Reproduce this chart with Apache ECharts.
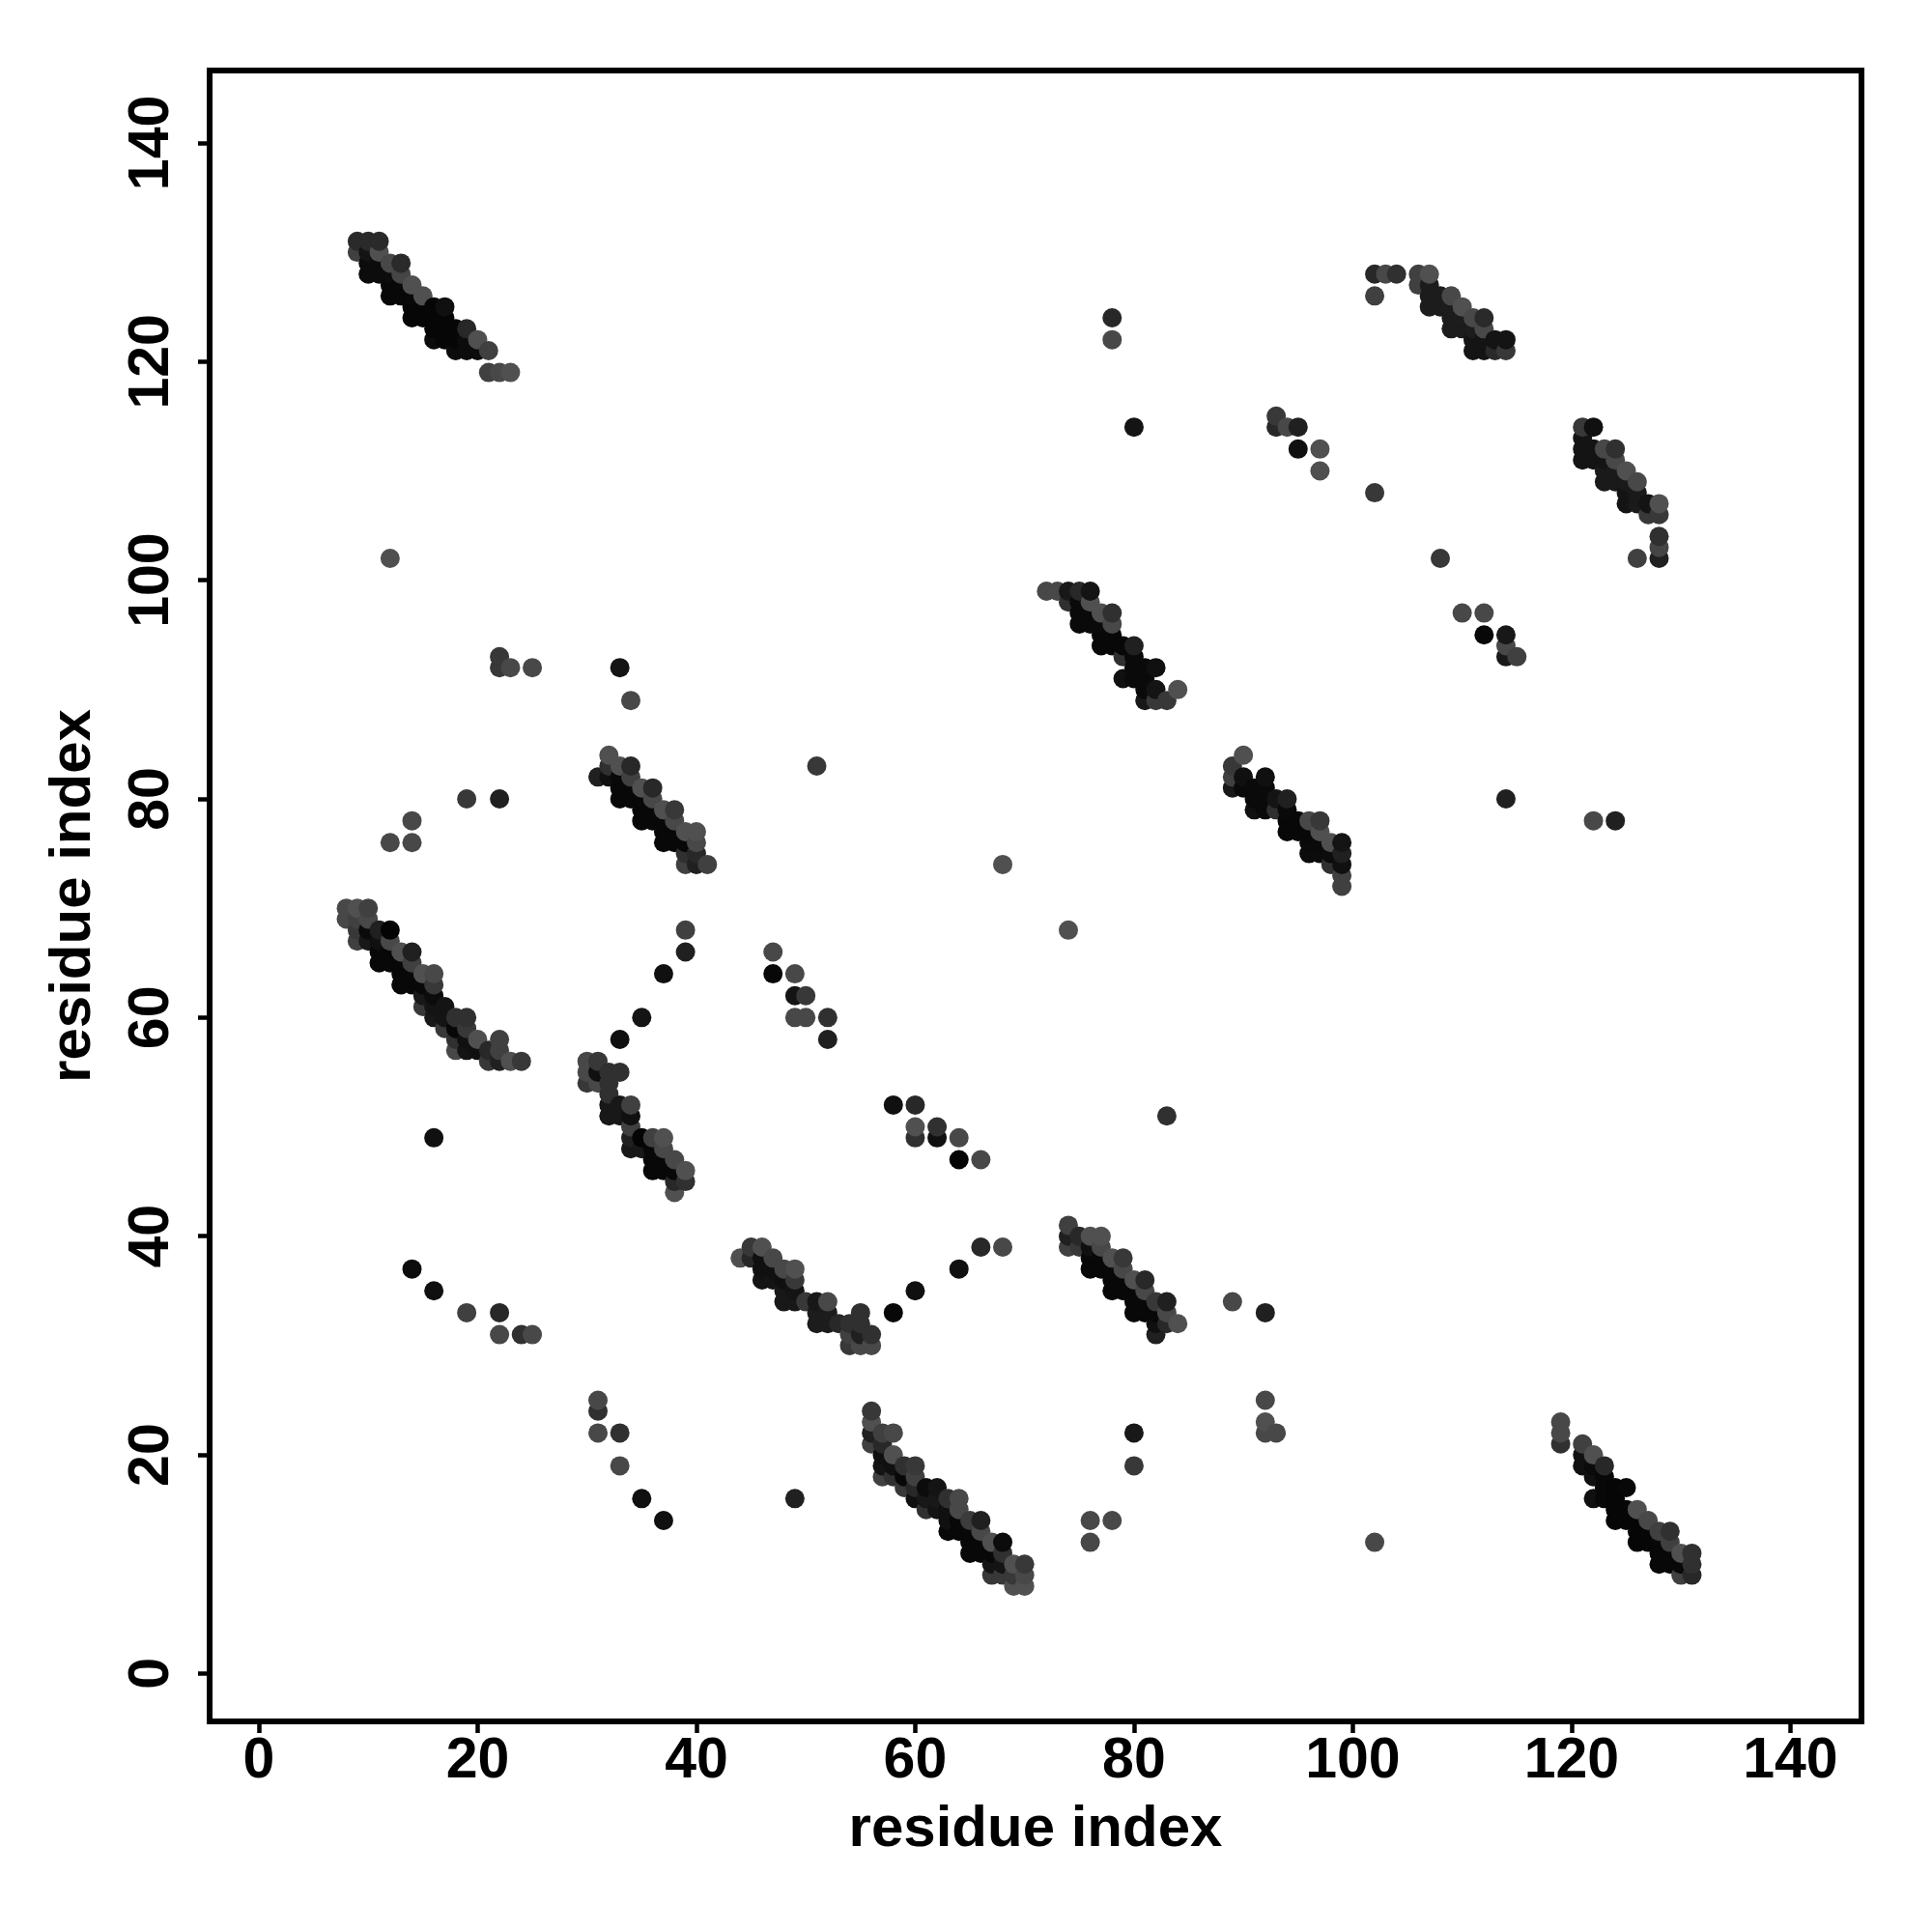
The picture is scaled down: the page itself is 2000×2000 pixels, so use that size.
<!DOCTYPE html>
<html><head><meta charset="utf-8">
<script src="https://cdn.jsdelivr.net/npm/echarts@6/dist/echarts.min.js"></script>
<style>html,body{margin:0;background:#fff}#c{width:2000px;height:2000px}</style></head>
<body><div id="c"></div>
<script>
const tickValues=[0,20,40,60,80,100,120,140];
const axisTitle='residue index';
// each contact: [residue x, residue y, gray level of the dot]
const bandA=[[9,131,0x2a],[10,131,0x2a],[11,131,0x2a],[9,130,0x40],[10,130,0x14],[11,130,0x50],[10,129,0x0c],[11,129,0x0c],[12,129,0x48],[13,129,0x2a],[10,128,0x0c],[11,128,0x0c],[12,128,0x0c],[13,128,0x45],[12,127,0x08],[13,127,0x08],[14,127,0x50],[12,126,0x08],[13,126,0x08],[14,126,0x08],[15,126,0x50],[14,125,0x06],[15,125,0x06],[16,125,0x06],[17,125,0x10],[14,124,0x06],[15,124,0x06],[16,124,0x06],[17,124,0x06],[16,123,0x06],[17,123,0x06],[18,123,0x06],[19,123,0x28],[16,122,0x0c],[17,122,0x06],[18,122,0x06],[19,122,0x0c],[20,122,0x50],[18,121,0x0c],[19,121,0x0c],[20,121,0x0c],[21,121,0x40],[21,119,0x40],[22,119,0x48],[23,119,0x50]];
const bandB=[[102,128,0x28],[103,128,0x48],[104,128,0x30],[106,128,0x40],[107,128,0x50],[106,127,0x40],[107,127,0x1c],[102,126,0x40],[107,126,0x1c],[108,126,0x1c],[109,126,0x48],[107,125,0x1c],[108,125,0x1c],[109,125,0x1c],[110,125,0x50],[109,124,0x1c],[110,124,0x1c],[111,124,0x48],[112,124,0x2a],[109,123,0x1c],[110,123,0x1c],[111,123,0x1c],[112,123,0x48],[111,122,0x14],[112,122,0x14],[113,122,0x14],[114,122,0x14],[111,121,0x14],[112,121,0x14],[113,121,0x2a],[114,121,0x38]];
const bandC=[[121,114,0x38],[122,114,0x10],[121,113,0x14],[121,112,0x14],[122,112,0x14],[123,112,0x48],[124,112,0x30],[121,111,0x14],[122,111,0x14],[123,111,0x14],[124,111,0x48],[123,110,0x1a],[124,110,0x1a],[125,110,0x50],[123,109,0x1a],[124,109,0x1a],[125,109,0x1a],[126,109,0x48],[125,108,0x14],[126,108,0x1a],[125,107,0x14],[126,107,0x1a],[127,107,0x14],[128,107,0x50],[127,106,0x38],[128,106,0x38],[128,104,0x30],[128,103,0x45],[126,102,0x40],[128,102,0x20]];
const bandD=[[72,99,0x48],[73,99,0x48],[74,99,0x18],[75,99,0x28],[76,99,0x14],[74,98,0x30],[75,98,0x0a],[76,98,0x50],[75,97,0x0a],[76,97,0x0a],[77,97,0x50],[78,97,0x30],[75,96,0x0a],[76,96,0x0a],[77,96,0x0a],[78,96,0x48],[77,95,0x08],[78,95,0x08],[77,94,0x08],[78,94,0x08],[79,94,0x08],[80,94,0x20],[79,93,0x30],[80,93,0x0a],[80,92,0x0a],[81,92,0x0a],[82,92,0x10],[79,91,0x10],[80,91,0x0a],[81,91,0x0a],[81,90,0x0a],[82,90,0x14],[84,90,0x50],[81,89,0x18],[82,89,0x38],[83,89,0x38]];
const bandE=[[90,84,0x50],[89,83,0x38],[89,82,0x40],[90,82,0x10],[92,82,0x10],[89,81,0x18],[90,81,0x0a],[91,81,0x0a],[92,81,0x0a],[91,80,0x0a],[92,80,0x0a],[93,80,0x14],[94,80,0x20],[91,79,0x10],[92,79,0x0a],[93,79,0x30],[94,79,0x0a],[94,78,0x08],[95,78,0x08],[96,78,0x48],[97,78,0x38],[94,77,0x08],[95,77,0x08],[96,77,0x08],[97,77,0x50],[96,76,0x0a],[97,76,0x0a],[98,76,0x50],[99,76,0x14],[96,75,0x0c],[97,75,0x0c],[98,75,0x0c],[99,75,0x20],[98,74,0x30],[99,74,0x10],[99,73,0x40],[99,72,0x40]];
const bandF=[[32,84,0x50],[32,83,0x30],[33,83,0x50],[34,83,0x28],[31,82,0x20],[32,82,0x10],[33,82,0x08],[34,82,0x40],[33,81,0x08],[34,81,0x08],[35,81,0x50],[36,81,0x28],[33,80,0x08],[34,80,0x08],[35,80,0x08],[36,80,0x48],[35,79,0x08],[36,79,0x08],[37,79,0x50],[38,79,0x38],[35,78,0x08],[36,78,0x08],[37,78,0x08],[38,78,0x48],[37,77,0x08],[38,77,0x08],[39,77,0x50],[40,77,0x50],[37,76,0x08],[38,76,0x08],[39,76,0x08],[40,76,0x48],[39,75,0x30],[40,75,0x28],[39,74,0x40],[40,74,0x20],[41,74,0x40]];
const bandG=[[8,70,0x48],[9,70,0x50],[10,70,0x40],[8,69,0x48],[9,69,0x40],[10,69,0x48],[9,68,0x38],[10,68,0x0a],[11,68,0x20],[12,68,0x04],[9,67,0x40],[10,67,0x18],[11,67,0x10],[12,67,0x48],[11,66,0x08],[12,66,0x08],[13,66,0x50],[14,66,0x20],[11,65,0x08],[12,65,0x08],[13,65,0x08],[14,65,0x40],[13,64,0x08],[14,64,0x08],[15,64,0x50],[16,64,0x48],[13,63,0x08],[14,63,0x08],[15,63,0x08],[16,63,0x38],[15,62,0x18],[16,62,0x0c],[15,61,0x38],[16,61,0x14],[17,61,0x14],[16,60,0x18],[17,60,0x14],[18,60,0x30],[19,60,0x30],[17,59,0x38],[18,59,0x08],[19,59,0x38],[18,58,0x30],[19,58,0x10],[20,58,0x50],[22,58,0x40],[18,57,0x48],[19,57,0x14],[20,57,0x10],[21,57,0x28],[22,57,0x40],[21,56,0x38],[22,56,0x20],[23,56,0x50],[24,56,0x38]];
const bandH=[[30,56,0x48],[31,56,0x38],[30,55,0x48],[31,55,0x10],[32,55,0x30],[33,55,0x30],[30,54,0x38],[31,54,0x48],[32,54,0x30],[32,53,0x30],[32,52,0x18],[33,52,0x18],[34,52,0x40],[32,51,0x18],[33,51,0x18],[34,51,0x10],[34,50,0x40],[34,49,0x20],[35,49,0x04],[36,49,0x40],[37,49,0x50],[34,48,0x18],[35,48,0x18],[36,48,0x08],[37,48,0x48],[36,47,0x08],[37,47,0x08],[38,47,0x48],[36,46,0x08],[37,46,0x08],[38,46,0x08],[39,46,0x50],[38,45,0x28],[39,45,0x30],[38,44,0x50]];
const bandI=[[45,39,0x38],[46,39,0x50],[44,38,0x50],[45,38,0x28],[46,38,0x10],[47,38,0x48],[46,37,0x10],[47,37,0x10],[48,37,0x48],[49,37,0x50],[46,36,0x14],[47,36,0x14],[48,36,0x10],[49,36,0x38],[48,35,0x18],[49,35,0x14],[48,34,0x18],[49,34,0x18],[50,34,0x38],[51,34,0x18],[52,34,0x48],[51,33,0x1c],[52,33,0x1c],[55,33,0x30],[51,32,0x1c],[52,32,0x1c],[53,32,0x28],[54,32,0x30],[55,32,0x30],[54,31,0x40],[55,31,0x20],[56,31,0x30],[54,30,0x38],[55,30,0x48],[56,30,0x48]];
const bandJ=[[74,41,0x40],[74,40,0x20],[75,40,0x28],[76,40,0x50],[77,40,0x50],[74,39,0x40],[75,39,0x38],[76,39,0x10],[77,39,0x48],[76,38,0x08],[77,38,0x08],[78,38,0x50],[79,38,0x38],[76,37,0x08],[77,37,0x08],[78,37,0x08],[79,37,0x48],[78,36,0x08],[79,36,0x08],[80,36,0x50],[81,36,0x28],[78,35,0x08],[79,35,0x08],[80,35,0x08],[81,35,0x48],[80,34,0x08],[81,34,0x08],[82,34,0x38],[83,34,0x20],[80,33,0x08],[81,33,0x08],[82,33,0x08],[83,33,0x48],[82,32,0x10],[83,32,0x28],[84,32,0x50],[82,31,0x20]];
const bandK=[[56,24,0x38],[56,23,0x50],[56,22,0x20],[57,22,0x40],[58,22,0x48],[56,21,0x40],[57,21,0x28],[57,20,0x10],[58,20,0x50],[57,19,0x14],[58,19,0x10],[59,19,0x30],[60,19,0x38],[57,18,0x40],[58,18,0x30],[59,18,0x08],[60,18,0x40],[59,17,0x38],[60,17,0x28],[61,17,0x0c],[62,17,0x14],[60,16,0x10],[61,16,0x18],[62,16,0x18],[63,16,0x30],[64,16,0x48],[61,15,0x30],[62,15,0x14],[63,15,0x10],[64,15,0x48],[63,14,0x10],[64,14,0x08],[65,14,0x3c],[66,14,0x20],[63,13,0x08],[64,13,0x08],[65,13,0x08],[66,13,0x48],[65,12,0x08],[66,12,0x08],[67,12,0x50],[68,12,0x0c],[65,11,0x08],[66,11,0x08],[67,11,0x08],[68,11,0x30],[67,10,0x14],[68,10,0x14],[69,10,0x50],[70,10,0x38],[67,9,0x38],[68,9,0x38],[69,9,0x38],[70,9,0x48],[69,8,0x50],[70,8,0x50]];
const bandL=[[119,23,0x48],[119,22,0x48],[119,21,0x30],[121,21,0x40],[121,20,0x10],[122,20,0x50],[121,19,0x10],[122,19,0x0a],[123,19,0x28],[122,18,0x10],[123,18,0x08],[123,17,0x08],[124,17,0x06],[125,17,0x08],[122,16,0x10],[123,16,0x08],[124,16,0x06],[124,15,0x06],[125,15,0x06],[126,15,0x50],[124,14,0x06],[125,14,0x06],[126,14,0x06],[127,14,0x48],[126,13,0x06],[127,13,0x06],[128,13,0x40],[129,13,0x30],[126,12,0x06],[127,12,0x06],[128,12,0x08],[129,12,0x40],[128,11,0x08],[129,11,0x08],[130,11,0x50],[131,11,0x30],[128,10,0x08],[129,10,0x08],[130,10,0x08],[131,10,0x30],[130,9,0x40],[131,9,0x28]];
const scattered=[[78,124,0x28],[78,122,0x48],[80,114,0x14],[93,115,0x38],[93,114,0x28],[94,114,0x48],[95,114,0x20],[95,112,0x10],[97,112,0x50],[97,110,0x50],[102,108,0x38],[108,102,0x38],[110,97,0x48],[112,97,0x48],[112,95,0x08],[114,95,0x18],[114,94,0x48],[114,93,0x18],[115,93,0x40],[114,80,0x20],[122,78,0x48],[124,78,0x20],[12,102,0x50],[22,93,0x38],[22,92,0x38],[23,92,0x48],[25,92,0x48],[33,92,0x14],[34,89,0x48],[19,80,0x38],[22,80,0x20],[14,78,0x48],[12,76,0x48],[14,76,0x48],[51,83,0x38],[68,74,0x50],[74,68,0x50],[39,68,0x40],[39,66,0x20],[37,64,0x10],[35,60,0x14],[33,58,0x10],[47,66,0x48],[47,64,0x08],[49,64,0x48],[49,62,0x14],[50,62,0x38],[49,60,0x48],[50,60,0x48],[52,60,0x30],[52,58,0x20],[58,52,0x10],[60,52,0x28],[60,50,0x50],[60,49,0x30],[62,50,0x30],[62,49,0x10],[64,49,0x48],[64,47,0x04],[66,47,0x48],[83,51,0x30],[16,49,0x10],[14,37,0x0c],[16,35,0x10],[19,33,0x40],[22,33,0x28],[22,31,0x48],[24,31,0x30],[25,31,0x48],[58,33,0x08],[60,35,0x10],[64,37,0x10],[66,39,0x28],[68,39,0x48],[89,34,0x48],[92,33,0x20],[92,25,0x48],[92,23,0x50],[92,22,0x48],[93,22,0x48],[80,22,0x18],[80,19,0x38],[76,14,0x48],[76,12,0x48],[78,14,0x48],[102,12,0x48],[31,25,0x48],[31,24,0x30],[31,22,0x48],[33,22,0x30],[33,19,0x48],[35,16,0x10],[37,14,0x10],[49,16,0x20]];

const contacts=[].concat(bandA,bandB,bandC,bandD,bandE,bandF,bandG,bandH,bandI,bandJ,bandK,bandL,scattered)
  .sort((a,b)=>a[0]-b[0]||a[1]-b[1]);
const font='"Liberation Sans", Arial, sans-serif';
function axis(extra){return Object.assign({
  type:'value',min:-4.5,max:146.5,splitLine:{show:false},
  axisLine:{show:false,onZero:false},
  axisTick:{show:true,length:12,inside:false,customValues:tickValues,lineStyle:{color:'#000',width:4.5}},
  axisLabel:{show:true,customValues:tickValues,color:'#000',fontFamily:font,fontWeight:'bold',fontSize:59,margin:12,hideOverlap:false},
  name:axisTitle,nameLocation:'middle',
  nameTextStyle:{color:'#000',fontFamily:font,fontWeight:'bold',fontSize:60}
},extra);}
const chart=echarts.init(document.getElementById('c'),null,{renderer:'canvas'});
chart.setOption({
  animation:false,backgroundColor:'#fff',
  grid:{left:217,top:73,width:1710,height:1709,show:true,borderColor:'#000',borderWidth:6,backgroundColor:'transparent'},
  xAxis:axis({nameGap:82}),
  yAxis:axis({min:-4.38,max:146.62,nameGap:111,nameRotate:90,axisLabel:{show:true,customValues:tickValues,rotate:90,color:'#000',fontFamily:font,fontWeight:'bold',fontSize:59,margin:30,hideOverlap:false,align:'center',verticalAlign:'bottom'}}),
  series:[{type:'scatter',symbol:'circle',symbolSize:20,silent:true,
    data:contacts,
    itemStyle:{opacity:1,color:p=>{const g=p.value[2];return `rgb(${g},${g},${g})`;}}}]
});
</script></body></html>
